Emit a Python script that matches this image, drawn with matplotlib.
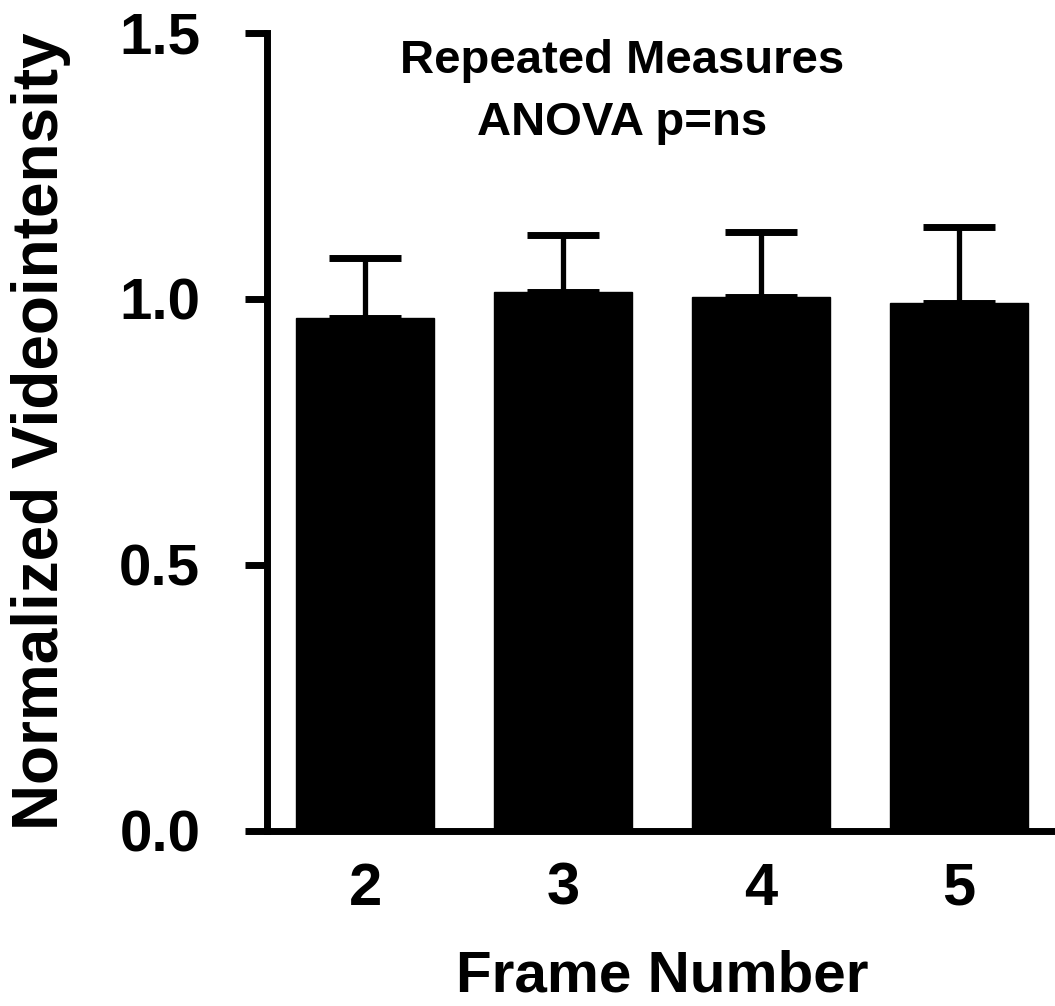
import numpy as np
import matplotlib
matplotlib.use("Agg")
import matplotlib.pyplot as plt

frames = ["2", "3", "4", "5"]
means = [0.964, 1.013, 1.004, 0.992]
sem = [0.113, 0.107, 0.122, 0.143]
yticks = [0.0, 0.5, 1.0, 1.5]

plt.rcParams['font.family'] = ['Liberation Sans', 'DejaVu Sans']
plt.rcParams['font.weight'] = 'bold'

fig = plt.figure(figsize=(10.55, 10.06), dpi=100)
ax = fig.add_axes([267/1055, 1 - 831/1006, 1 - 267/1055, (831 - 33)/1006])

x = np.arange(len(frames))
ax.bar(x, means, width=0.70, color='black', edgecolor='black', linewidth=1, zorder=3)
ax.errorbar(x, means, yerr=[np.zeros(len(sem)), sem], fmt='none', ecolor='black',
            elinewidth=3.8, capsize=26, capthick=5, zorder=2)

ax.set_xlim(-0.495, 3.485)
ax.set_ylim(0, 1.5)
ax.set_yticks(yticks)
ax.set_yticklabels(["%.1f" % t for t in yticks])
ax.set_xticks(x)
ax.set_xticklabels(frames)

ax.spines['top'].set_visible(False)
ax.spines['right'].set_visible(False)
ax.spines['left'].set_linewidth(5)
ax.spines['bottom'].set_linewidth(5)
ax.spines['left'].set_capstyle('projecting')
ax.tick_params(axis='y', direction='out', length=16, width=5, pad=32, labelsize=42)
ax.tick_params(axis='x', length=0, pad=22, labelsize=43)
for lab in ax.get_yticklabels() + ax.get_xticklabels():
    lab.set_fontweight('bold')

fig.text(622/1055, 1 - 92/1006, "Repeated Measures\nANOVA p=ns", ha='center', va='center',
         fontsize=34, fontweight='bold', linespacing=1.55)
fig.text(662/1055, 3/1006, "Frame Number", ha='center', va='bottom',
         fontsize=42, fontweight='bold')
fig.text(41/1055, 1 - 431/1006, "Normalized Videointensity", ha='center', va='center',
         rotation=90, fontsize=46, fontweight='bold')

fig.savefig("out.png", dpi=100)
